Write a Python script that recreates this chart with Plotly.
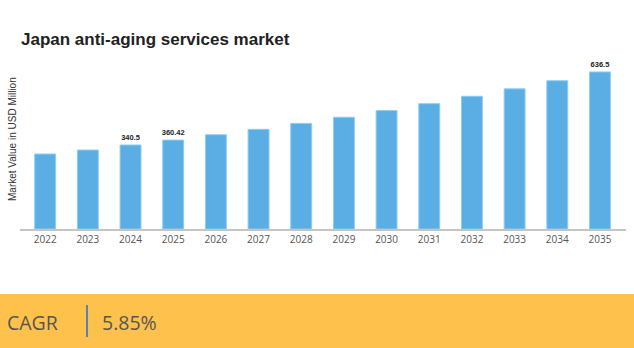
import plotly.graph_objects as go

# Market size by year (USD million)
years = ["2022", "2023", "2024", "2025", "2026", "2027", "2028",
         "2029", "2030", "2031", "2032", "2033", "2034", "2035"]
values = [304, 320, 340.5, 360.42, 382, 404, 428, 453, 480, 508, 538, 568, 601, 636.5]
labelled_years = ["2024", "2025", "2035"]

title_text = "Japan anti-aging services market"
y_title = "Market Value in USD Million"
cagr_label = "CAGR"
cagr_value = "5.85%"

W, H = 634, 348

bar_text = [str(v) if y in labelled_years else "" for y, v in zip(years, values)]

fig = go.Figure()
fig.add_trace(go.Bar(
    x=years,
    y=values,
    text=bar_text,
    textposition="outside",
    texttemplate="<b>%{text}</b>",
    textfont=dict(family="Arial, Liberation Sans, sans-serif", size=7.5, color="#222"),
    constraintext="none",
    cliponaxis=False,
    marker=dict(color="#5AAEE4", line=dict(color="#8CCDF2", width=1)),
    hoverinfo="skip",
))

fig.update_layout(
    width=W, height=H,
    margin=dict(l=0, r=0, t=0, b=0),
    paper_bgcolor="white",
    plot_bgcolor="white",
    showlegend=False,
    bargap=0.51,
    xaxis=dict(
        domain=[20 / W, 626 / W],
        range=[-0.59, 13.61],
        showgrid=False,
        showline=True,
        linecolor="#c4c4c4",
        linewidth=1.5,
        ticks="",
        tickfont=dict(family="Open Sans, DejaVu Sans, sans-serif", size=10, color="#555"),
        fixedrange=True,
    ),
    yaxis=dict(
        domain=[1 - 229 / H, 1 - 60 / H],
        range=[0, 685],
        showgrid=False,
        showline=False,
        zeroline=False,
        showticklabels=False,
        ticks="",
        fixedrange=True,
    ),
    shapes=[
        # yellow summary band
        dict(type="rect", xref="paper", yref="paper",
             x0=0, x1=1, y0=0, y1=1 - 294 / H,
             fillcolor="#FEC24C", line=dict(width=0), layer="below"),
        # divider between label and value
        dict(type="line", xref="paper", yref="paper",
             x0=87 / W, x1=87 / W, y0=1 - 337 / H, y1=1 - 305 / H,
             line=dict(color="#1E6FD0", width=1.5)),
    ],
    annotations=[
        dict(text=f"<b>{title_text}</b>", xref="paper", yref="paper",
             x=19 / W, y=1 - 40 / H, xanchor="left", yanchor="middle",
             showarrow=False,
             font=dict(family="Arial, Liberation Sans, sans-serif", size=17, color="#222")),
        dict(text=y_title, xref="paper", yref="paper",
             x=13 / W, y=1 - 139 / H, xanchor="center", yanchor="middle",
             textangle=-90, showarrow=False,
             font=dict(family="Arial, Liberation Sans, sans-serif", size=10, color="#333")),
        dict(text=cagr_label, xref="paper", yref="paper",
             x=5 / W, y=1 - 322 / H, xanchor="left", yanchor="middle",
             showarrow=False,
             font=dict(family="Open Sans, sans-serif", size=19.5, color="#555")),
        dict(text=cagr_value, xref="paper", yref="paper",
             x=100 / W, y=1 - 322 / H, xanchor="left", yanchor="middle",
             showarrow=False,
             font=dict(family="Open Sans, sans-serif", size=19.5, color="#555")),
    ],
)

fig.write_html("out.html", config={"displayModeBar": False})
